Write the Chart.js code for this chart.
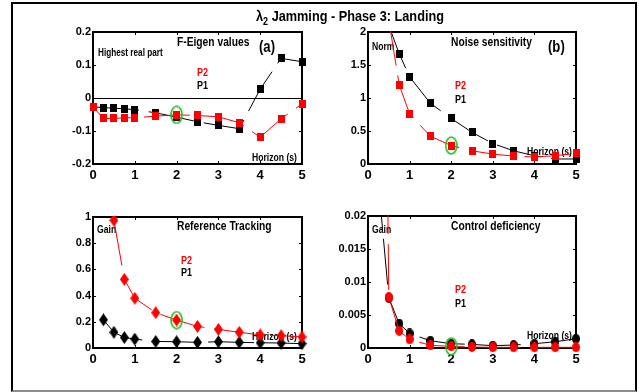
<!DOCTYPE html>
<html>
<head>
<meta charset="utf-8">
<script src="https://cdn.jsdelivr.net/npm/chart.js@4.4.1/dist/chart.umd.min.js"></script>
<style>
  html, body { margin: 0; padding: 0; background: #fff; }
  #fig { position: relative; width: 639px; height: 392px; overflow: hidden; background: #fff; }
  #frame { position: absolute; left: 11px; top: 2px; width: 622px; height: 386px;
           border-top: 2px solid #000; border-left: 2px solid #000; border-right: 2px solid #000;
           border-bottom: 2px solid #8c8c8c; }
  #fig canvas { position: absolute; }
  #title { position: absolute; left: 256px; top: 8px; font-weight: bold; font-size: 15.5px;
           line-height: 15.5px; white-space: nowrap; transform-origin: 0 0; color: #000; }
  #title .sub { font-size: 11px; position: relative; top: 4px; }
</style>
</head>
<body>
<div id="fig">
  <div id="frame"></div>
  <canvas id="eig"></canvas>
  <canvas id="noise"></canvas>
  <canvas id="track"></canvas>
  <canvas id="def"></canvas>
  <div id="title">λ<span class="sub">2</span> Jamming - Phase 3: Landing</div>
</div>
<script>
// Prediction horizons (s) shared by every panel
const HORIZON = [0, 0.25, 0.5, 0.75, 1, 1.5, 2, 2.5, 3, 3.5, 4, 4.5, 5];
const X_TICKS = [0, 1, 2, 3, 4, 5];
const CHOSEN_HORIZON = 2;

// (a) F-Eigen values: highest real part
const EIG_P1 = [-0.027, -0.029, -0.031, -0.033, -0.035, -0.045, -0.058, -0.072, -0.083, -0.093, 0.027, 0.12, 0.11];
const EIG_P2 = [-0.027, -0.062, -0.062, -0.06, -0.06, -0.055, -0.051, -0.053, -0.057, -0.075, -0.119, -0.063, -0.018];
const EIG_TICKS = [-0.2, -0.1, 0, 0.1, 0.2];

// (b) Noise sensitivity: norm
const NOISE_P1 = [null, null, 2.1, 1.67, 1.32, 0.92, 0.69, 0.48, 0.31, 0.2, 0.125, 0.076, 0.076];
const NOISE_P2 = [null, null, 2.18, 1.2, 0.76, 0.42, 0.28, 0.2, 0.15, 0.12, 0.106, 0.126, 0.16];
const NOISE_TICKS = [0, 0.5, 1, 1.5, 2];

// (c) Reference tracking: gain
const TRACK_P1 = [null, 0.215, 0.12, 0.08, 0.068, 0.05, 0.048, 0.043, 0.048, 0.043, 0.04, 0.038, 0.033];
const TRACK_P2 = [null, null, 0.975, 0.524, 0.38, 0.27, 0.213, 0.165, 0.142, 0.12, 0.1, 0.094, 0.084];
const TRACK_TICKS = [0, 0.2, 0.4, 0.6, 0.8, 1];

// (d) Control deficiency: gain
const DEF_P1 = [null, 0.025, 0.0076, 0.0037, 0.0022, 0.0011, 0.00065, 0.00055, 0.00035, 0.00045, 0.00065, 0.00095, 0.0014];
const DEF_P2 = [null, 0.16, 0.0077, 0.0026, 0.0013, 0.0004, 0.00025, 0.00015, 0.0001, 0.0001, 0.0001, 0.0001, 0.0001];
const DEF_TICKS = [0, 0.005, 0.01, 0.015, 0.02];

const RED = '#ff0000', BLACK = '#000000', GREEN = '#22c322';

// Use the narrow face when present, otherwise squeeze the regular one
const HAS_NARROW = (() => {
  const g = document.createElement('canvas').getContext('2d');
  g.font = 'bold 20px monospace';
  const a = g.measureText('Horizon sensitivity').width;
  g.font = 'bold 20px "Liberation Sans Narrow", monospace';
  const b = g.measureText('Horizon sensitivity').width;
  return Math.abs(a - b) > 1;
})();
const FAMILY = HAS_NARROW ? '"Liberation Sans Narrow", "Liberation Sans", Arial, sans-serif'
                          : '"Liberation Sans", Arial, sans-serif';
const SQUEEZE = HAS_NARROW ? 1 : 0.82;

const title = document.getElementById('title');
title.style.fontFamily = FAMILY;
if (!HAS_NARROW) title.style.transform = 'scaleX(' + SQUEEZE + ')';

function label(ctx, text, x, y, size, color) {
  ctx.save();
  ctx.fillStyle = color;
  ctx.textAlign = 'left';
  ctx.textBaseline = 'alphabetic';
  ctx.font = 'bold ' + size + 'px ' + FAMILY;
  ctx.translate(x, y);
  ctx.scale(SQUEEZE, 1);
  ctx.fillText(text, 0, 0);
  ctx.restore();
}

// Marker sprites
function sprite(w, h, draw) {
  const c = document.createElement('canvas');
  c.width = w; c.height = h;
  draw(c.getContext('2d'), w, h);
  return c;
}
const square = col => sprite(7, 8, (g, w, h) => { g.fillStyle = col; g.fillRect(0, 0, w, h); });
const diamond = col => sprite(9, 13, (g, w, h) => {
  g.fillStyle = col; g.beginPath();
  g.moveTo(w / 2, 0); g.lineTo(w, h / 2); g.lineTo(w / 2, h); g.lineTo(0, h / 2);
  g.closePath(); g.fill();
});
const dot = col => sprite(8, 10, (g, w, h) => {
  g.fillStyle = col; g.beginPath();
  g.ellipse(w / 2, h / 2, w / 2, h / 2, 0, 0, Math.PI * 2); g.fill();
});
const ring = sprite(13, 19, (g, w, h) => {
  g.strokeStyle = GREEN; g.lineWidth = 1.7; g.beginPath();
  g.ellipse(w / 2, h / 2, w / 2 - 1, h / 2 - 1, 0, 0, Math.PI * 2); g.stroke();
});

// Box with inward ticks on all four sides, plus panel annotations
const boxPlugin = {
  id: 'boxPlugin',
  beforeDatasetsDraw(chart) {
    const { ctx, chartArea: a, scales: { x, y } } = chart;
    ctx.save();
    ctx.strokeStyle = '#000';
    ctx.lineWidth = 1;
    ctx.beginPath();
    x.ticks.forEach(t => {
      if (t.value <= x.min || t.value >= x.max) return;
      const px = Math.round(x.getPixelForValue(t.value)) + 0.5;
      ctx.moveTo(px, a.bottom); ctx.lineTo(px, a.bottom - 3);
      ctx.moveTo(px, a.top); ctx.lineTo(px, a.top + 3);
    });
    y.ticks.forEach(t => {
      if (t.value <= y.min || t.value >= y.max) return;
      const py = Math.round(y.getPixelForValue(t.value)) + 0.5;
      ctx.moveTo(a.left, py); ctx.lineTo(a.left + 3, py);
      ctx.moveTo(a.right, py); ctx.lineTo(a.right - 3, py);
    });
    ctx.stroke();
    ctx.lineWidth = 2;
    ctx.strokeRect(a.left, a.top, a.right - a.left, a.bottom - a.top);
    ctx.restore();
    const notes = chart.options.plugins.boxPlugin.notes || [];
    notes.forEach(n => label(ctx, n.text, a.left + n.dx, a.top + n.dy, n.size, n.color));
  }
};

const PADL = 46, PADT = 10, PADR = 10, PADB = 24;

function panel(id, box, yTicks, p1, p2, m1, m2, notes, zeroLine) {
  const cv = document.getElementById(id);
  cv.width = (box.r - box.l) + PADL + PADR;
  cv.height = (box.b - box.t) + PADT + PADB;
  cv.style.left = (box.l - PADL) + 'px';
  cv.style.top = (box.t - PADT) + 'px';
  const pts = vals => HORIZON.map((h, i) => ({ x: h, y: vals[i] }));
  const clip = { left: 8, right: 8, top: 1, bottom: 8 };
  const line = (vals, col, marker) => ({
    data: pts(vals), borderColor: col, backgroundColor: col, borderWidth: 1,
    borderDash: [46, 10], pointStyle: marker, pointRadius: 4, pointHoverRadius: 4,
    spanGaps: false, tension: 0, clip
  });
  const k = HORIZON.indexOf(CHOSEN_HORIZON);
  new Chart(cv, {
    type: 'line',
    data: {
      datasets: [
        { data: [{ x: CHOSEN_HORIZON, y: p2[k] }], showLine: false, pointStyle: ring,
          pointRadius: 6, borderColor: GREEN, clip },
        line(p2, RED, m2),
        line(p1, BLACK, m1)
      ]
    },
    options: {
      responsive: false, animation: false, devicePixelRatio: 1,
      events: [],
      layout: { padding: { left: 0, top: PADT, right: PADR, bottom: 0 } },
      plugins: { legend: { display: false }, tooltip: { enabled: false }, boxPlugin: { notes } },
      scales: {
        x: {
          type: 'linear', min: 0, max: 5,
          afterFit(s) { s.height = PADB; },
          afterBuildTicks(s) { s.ticks = X_TICKS.map(v => ({ value: v })); },
          grid: { display: false, drawTicks: false },
          border: { display: false },
          ticks: { color: '#000', padding: 4, maxRotation: 0, autoSkip: false,
                   font: { family: FAMILY, size: 13, weight: 'bold' } }
        },
        y: {
          type: 'linear', min: yTicks[0], max: yTicks[yTicks.length - 1],
          afterFit(s) { s.width = PADL; },
          afterBuildTicks(s) { s.ticks = yTicks.map(v => ({ value: v })); },
          grid: zeroLine
            ? { display: true, drawTicks: false, lineWidth: 1,
                color: c => (c.tick && c.tick.value === 0 ? '#000' : 'rgba(0,0,0,0)') }
            : { display: false, drawTicks: false },
          border: { display: false },
          ticks: { color: '#000', padding: 2, autoSkip: false,
                   font: { family: FAMILY, size: 11, weight: 'bold' },
                   callback: v => String(Math.round(v * 1e6) / 1e6) }
        }
      }
    },
    plugins: [boxPlugin]
  });
}

const horizonNote = dy => ({ text: 'Horizon (s)', dx: 159, dy, size: 10.5, color: BLACK });

panel('eig', { l: 93, t: 32, r: 302, b: 164 }, EIG_TICKS, EIG_P1, EIG_P2,
  square(BLACK), square(RED), [
    { text: 'Highest real part', dx: 5, dy: 24, size: 10, color: BLACK },
    { text: 'F-Eigen values', dx: 84, dy: 14, size: 12.5, color: BLACK },
    { text: '(a)', dx: 166, dy: 20, size: 16, color: BLACK },
    { text: 'P2', dx: 104, dy: 44, size: 11, color: RED },
    { text: 'P1', dx: 104, dy: 57, size: 11, color: BLACK },
    horizonNote(129)
  ], true);

panel('noise', { l: 368, t: 32, r: 576, b: 164 }, NOISE_TICKS, NOISE_P1, NOISE_P2,
  square(BLACK), square(RED), [
    { text: 'Norm', dx: 4, dy: 18, size: 10.5, color: BLACK },
    { text: 'Noise sensitivity', dx: 83, dy: 14, size: 12.5, color: BLACK },
    { text: '(b)', dx: 180, dy: 20, size: 16, color: BLACK },
    { text: 'P2', dx: 87, dy: 57, size: 11, color: RED },
    { text: 'P1', dx: 87, dy: 71, size: 11, color: BLACK },
    horizonNote(123)
  ], false);

panel('track', { l: 93, t: 217, r: 302, b: 348 }, TRACK_TICKS, TRACK_P1, TRACK_P2,
  diamond(BLACK), diamond(RED), [
    { text: 'Gain', dx: 4, dy: 16, size: 10.5, color: BLACK },
    { text: 'Reference Tracking', dx: 84, dy: 13, size: 12.5, color: BLACK },
    { text: 'P2', dx: 88, dy: 47, size: 11, color: RED },
    { text: 'P1', dx: 88, dy: 59, size: 11, color: BLACK },
    horizonNote(123)
  ], false);

panel('def', { l: 368, t: 216, r: 576, b: 348 }, DEF_TICKS, DEF_P1, DEF_P2,
  dot(BLACK), dot(RED), [
    { text: 'Gain', dx: 4, dy: 17, size: 10.5, color: BLACK },
    { text: 'Control deficiency', dx: 83, dy: 14, size: 12.5, color: BLACK },
    { text: 'P2', dx: 87, dy: 77, size: 11, color: RED },
    { text: 'P1', dx: 87, dy: 91, size: 11, color: BLACK },
    horizonNote(123)
  ], false);
</script>
</body>
</html>
